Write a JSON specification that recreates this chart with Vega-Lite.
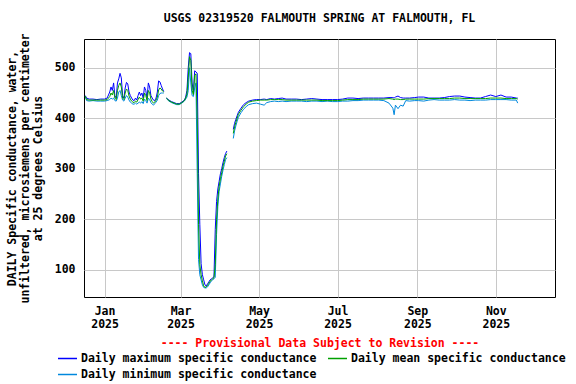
{
"$schema": "https://vega.github.io/schema/vega-lite/v6.json",
"width": 471, "height": 258,
"autosize": {"type": "none"},
"padding": {"left": 84, "top": 39, "right": 21, "bottom": 87},
"background": "white",
"title": {"text": "USGS 02319520 FALMOUTH SPRING AT FALMOUTH, FL", "font": "DejaVu Sans Mono", "fontSize": 11.5, "fontWeight": "bold", "anchor": "middle", "frame": "group", "offset": 8, "color": "black"},
"config": {"view": {"stroke": "black", "strokeWidth": 1}},
"data": {"values": [
{"d":"2024-12-17","max":445,"mean":444,"min":443},
{"d":"2024-12-18","max":440,"mean":437,"min":435},
{"d":"2024-12-20","max":438,"mean":436,"min":434},
{"d":"2024-12-23","max":438,"mean":436,"min":435},
{"d":"2024-12-26","max":437,"mean":436,"min":434},
{"d":"2024-12-29","max":438,"mean":436,"min":434},
{"d":"2025-01-01","max":438,"mean":436,"min":434},
{"d":"2025-01-03","max":440,"mean":437,"min":435},
{"d":"2025-01-05","max":452,"mean":443,"min":437},
{"d":"2025-01-06","max":462,"mean":450,"min":440},
{"d":"2025-01-07","max":455,"mean":446,"min":438},
{"d":"2025-01-08","max":470,"mean":455,"min":440},
{"d":"2025-01-09","max":445,"mean":440,"min":435},
{"d":"2025-01-10","max":440,"mean":437,"min":434},
{"d":"2025-01-11","max":470,"mean":455,"min":440},
{"d":"2025-01-12","max":478,"mean":465,"min":452},
{"d":"2025-01-13","max":489,"mean":470,"min":455},
{"d":"2025-01-14","max":480,"mean":462,"min":445},
{"d":"2025-01-15","max":445,"mean":440,"min":436},
{"d":"2025-01-16","max":440,"mean":437,"min":434},
{"d":"2025-01-17","max":460,"mean":450,"min":440},
{"d":"2025-01-18","max":471,"mean":458,"min":445},
{"d":"2025-01-19","max":468,"mean":455,"min":442},
{"d":"2025-01-20","max":452,"mean":444,"min":436},
{"d":"2025-01-21","max":445,"mean":438,"min":432},
{"d":"2025-01-22","max":440,"mean":434,"min":430},
{"d":"2025-01-23","max":436,"mean":432,"min":428},
{"d":"2025-01-24","max":435,"mean":431,"min":428},
{"d":"2025-01-25","max":440,"mean":434,"min":430},
{"d":"2025-01-26","max":436,"mean":432,"min":428},
{"d":"2025-01-27","max":445,"mean":437,"min":430},
{"d":"2025-01-28","max":452,"mean":442,"min":432},
{"d":"2025-01-29","max":445,"mean":438,"min":430},
{"d":"2025-01-30","max":450,"mean":440,"min":433},
{"d":"2025-01-31","max":440,"mean":434,"min":429},
{"d":"2025-02-01","max":462,"mean":450,"min":438},
{"d":"2025-02-02","max":455,"mean":445,"min":435},
{"d":"2025-02-03","max":440,"mean":435,"min":430},
{"d":"2025-02-04","max":470,"mean":455,"min":440},
{"d":"2025-02-05","max":462,"mean":450,"min":437},
{"d":"2025-02-06","max":445,"mean":438,"min":431},
{"d":"2025-02-07","max":440,"mean":433,"min":428},
{"d":"2025-02-08","max":436,"mean":430,"min":426},
{"d":"2025-02-09","max":435,"mean":432,"min":429},
{"d":"2025-02-10","max":440,"mean":436,"min":432},
{"d":"2025-02-11","max":452,"mean":442,"min":436},
{"d":"2025-02-12","max":474,"mean":456,"min":445},
{"d":"2025-02-13","max":472,"mean":460,"min":449},
{"d":"2025-02-14","max":465,"mean":458,"min":450},
{"d":"2025-02-15","max":458,"mean":454,"min":450},
{"d":"2025-02-16","max":453,"mean":452,"min":450},
{"d":"2025-02-17","max":null,"mean":null,"min":null},
{"d":"2025-02-18","max":440,"mean":440,"min":439},
{"d":"2025-02-20","max":436,"mean":435,"min":434},
{"d":"2025-02-22","max":433,"mean":432,"min":431},
{"d":"2025-02-24","max":431,"mean":430,"min":429},
{"d":"2025-02-26","max":429,"mean":428,"min":427},
{"d":"2025-02-28","max":429,"mean":428,"min":427},
{"d":"2025-03-02","max":432,"mean":431,"min":430},
{"d":"2025-03-04","max":436,"mean":435,"min":434},
{"d":"2025-03-05","max":442,"mean":440,"min":438},
{"d":"2025-03-06","max":455,"mean":448,"min":442},
{"d":"2025-03-07","max":500,"mean":480,"min":455},
{"d":"2025-03-08","max":530,"mean":522,"min":500},
{"d":"2025-03-09","max":528,"mean":515,"min":470},
{"d":"2025-03-10","max":470,"mean":455,"min":445},
{"d":"2025-03-11","max":452,"mean":447,"min":443},
{"d":"2025-03-12","max":494,"mean":485,"min":460},
{"d":"2025-03-13","max":492,"mean":488,"min":470},
{"d":"2025-03-14","max":489,"mean":400,"min":290},
{"d":"2025-03-15","max":290,"mean":190,"min":120},
{"d":"2025-03-16","max":190,"mean":110,"min":90},
{"d":"2025-03-17","max":112,"mean":90,"min":80},
{"d":"2025-03-18","max":90,"mean":78,"min":70},
{"d":"2025-03-19","max":80,"mean":68,"min":65},
{"d":"2025-03-20","max":70,"mean":65,"min":64},
{"d":"2025-03-21","max":68,"mean":66,"min":64},
{"d":"2025-03-22","max":72,"mean":69,"min":66},
{"d":"2025-03-23","max":76,"mean":73,"min":70},
{"d":"2025-03-24","max":80,"mean":77,"min":74},
{"d":"2025-03-25","max":82,"mean":80,"min":78},
{"d":"2025-03-26","max":84,"mean":82,"min":80},
{"d":"2025-03-27","max":86,"mean":84,"min":82},
{"d":"2025-03-28","max":180,"mean":110,"min":85},
{"d":"2025-03-29","max":235,"mean":200,"min":170},
{"d":"2025-03-30","max":260,"mean":240,"min":225},
{"d":"2025-03-31","max":275,"mean":265,"min":255},
{"d":"2025-04-01","max":290,"mean":280,"min":270},
{"d":"2025-04-02","max":300,"mean":292,"min":285},
{"d":"2025-04-03","max":312,"mean":305,"min":297},
{"d":"2025-04-04","max":322,"mean":315,"min":308},
{"d":"2025-04-05","max":330,"mean":325,"min":318},
{"d":"2025-04-06","max":335,"mean":330,"min":322},
{"d":"2025-04-08","max":null,"mean":null,"min":null},
{"d":"2025-04-11","max":378,"mean":370,"min":360},
{"d":"2025-04-12","max":390,"mean":383,"min":375},
{"d":"2025-04-13","max":398,"mean":392,"min":385},
{"d":"2025-04-14","max":405,"mean":400,"min":394},
{"d":"2025-04-15","max":412,"mean":408,"min":402},
{"d":"2025-04-17","max":420,"mean":416,"min":411},
{"d":"2025-04-19","max":427,"mean":423,"min":418},
{"d":"2025-04-21","max":431,"mean":428,"min":423},
{"d":"2025-04-23","max":434,"mean":432,"min":427},
{"d":"2025-04-26","max":436,"mean":434,"min":429},
{"d":"2025-04-29","max":437,"mean":435,"min":430},
{"d":"2025-05-02","max":437,"mean":436,"min":428},
{"d":"2025-05-05","max":438,"mean":436,"min":426},
{"d":"2025-05-07","max":437,"mean":436,"min":431},
{"d":"2025-05-10","max":439,"mean":437,"min":433},
{"d":"2025-05-13","max":438,"mean":437,"min":434},
{"d":"2025-05-16","max":439,"mean":437,"min":433},
{"d":"2025-05-19","max":440,"mean":437,"min":434},
{"d":"2025-05-22","max":438,"mean":436,"min":433},
{"d":"2025-05-26","max":438,"mean":436,"min":434},
{"d":"2025-05-30","max":438,"mean":436,"min":434},
{"d":"2025-06-03","max":437,"mean":436,"min":434},
{"d":"2025-06-07","max":438,"mean":436,"min":433},
{"d":"2025-06-11","max":439,"mean":436,"min":434},
{"d":"2025-06-15","max":438,"mean":436,"min":434},
{"d":"2025-06-19","max":437,"mean":435,"min":433},
{"d":"2025-06-23","max":437,"mean":435,"min":434},
{"d":"2025-06-27","max":437,"mean":435,"min":433},
{"d":"2025-07-01","max":437,"mean":435,"min":433},
{"d":"2025-07-05","max":438,"mean":436,"min":434},
{"d":"2025-07-09","max":440,"mean":437,"min":434},
{"d":"2025-07-13","max":440,"mean":437,"min":435},
{"d":"2025-07-17","max":439,"mean":437,"min":435},
{"d":"2025-07-21","max":440,"mean":438,"min":436},
{"d":"2025-07-25","max":440,"mean":438,"min":436},
{"d":"2025-07-29","max":440,"mean":438,"min":436},
{"d":"2025-08-02","max":440,"mean":438,"min":436},
{"d":"2025-08-06","max":440,"mean":438,"min":435},
{"d":"2025-08-10","max":441,"mean":439,"min":430},
{"d":"2025-08-13","max":441,"mean":438,"min":420},
{"d":"2025-08-14","max":440,"mean":437,"min":407},
{"d":"2025-08-15","max":442,"mean":438,"min":426},
{"d":"2025-08-17","max":444,"mean":438,"min":419},
{"d":"2025-08-19","max":441,"mean":437,"min":426},
{"d":"2025-08-21","max":440,"mean":437,"min":424},
{"d":"2025-08-23","max":440,"mean":438,"min":435},
{"d":"2025-08-26","max":440,"mean":438,"min":434},
{"d":"2025-08-30","max":441,"mean":438,"min":435},
{"d":"2025-09-02","max":442,"mean":438,"min":435},
{"d":"2025-09-06","max":442,"mean":438,"min":434},
{"d":"2025-09-10","max":440,"mean":439,"min":436},
{"d":"2025-09-14","max":440,"mean":439,"min":437},
{"d":"2025-09-18","max":440,"mean":439,"min":436},
{"d":"2025-09-22","max":441,"mean":439,"min":436},
{"d":"2025-09-26","max":443,"mean":439,"min":436},
{"d":"2025-09-30","max":444,"mean":440,"min":437},
{"d":"2025-10-04","max":444,"mean":440,"min":436},
{"d":"2025-10-08","max":442,"mean":439,"min":436},
{"d":"2025-10-12","max":441,"mean":439,"min":435},
{"d":"2025-10-16","max":440,"mean":439,"min":436},
{"d":"2025-10-20","max":440,"mean":439,"min":436},
{"d":"2025-10-24","max":443,"mean":439,"min":436},
{"d":"2025-10-28","max":446,"mean":440,"min":437},
{"d":"2025-11-01","max":443,"mean":440,"min":437},
{"d":"2025-11-05","max":446,"mean":440,"min":437},
{"d":"2025-11-09","max":442,"mean":439,"min":437},
{"d":"2025-11-13","max":442,"mean":439,"min":436},
{"d":"2025-11-17","max":440,"mean":439,"min":436},
{"d":"2025-11-18","max":440,"mean":438,"min":430}
]},
"transform": [{"fold": ["max", "min", "mean"], "as": ["series", "value"]}],
"mark": {"type": "line", "strokeWidth": 1, "invalid": "break-paths-show-domains"},
"encoding": {
"x": {"field": "d", "type": "temporal",
 "scale": {"type": "utc", "domain": [{"year": 2024, "month": 12, "date": 16, "utc": true}, {"year": 2025, "month": 12, "date": 17, "utc": true}]},
 "axis": {"values": [{"year": 2025, "month": 1, "date": 1, "utc": true}, {"year": 2025, "month": 3, "date": 1, "utc": true}, {"year": 2025, "month": 5, "date": 1, "utc": true}, {"year": 2025, "month": 7, "date": 1, "utc": true}, {"year": 2025, "month": 9, "date": 1, "utc": true}, {"year": 2025, "month": 11, "date": 1, "utc": true}],
  "labelExpr": "[utcFormat(datum.value, '%b'), utcFormat(datum.value, '%Y')]",
  "labelFont": "DejaVu Sans Mono", "labelFontSize": 11.5, "labelFontWeight": "bold", "labelColor": "black",
  "labelPadding": 8, "labelLineHeight": 13, "labelFlush": false, "labelOverlap": false,
  "ticks": false, "domain": false, "grid": true, "gridColor": "#c8c8c8", "gridWidth": 1,
  "title": "---- Provisional Data Subject to Revision ----", "titleColor": "red",
  "titleFont": "DejaVu Sans Mono", "titleFontSize": 11.5, "titleFontWeight": "bold", "titlePadding": 8}},
"y": {"field": "value", "type": "quantitative",
 "scale": {"domain": [46, 557], "nice": false, "zero": false},
 "axis": {"values": [100, 200, 300, 400, 500],
  "labelFont": "DejaVu Sans Mono", "labelFontSize": 11.5, "labelFontWeight": "bold", "labelColor": "black",
  "labelPadding": 9, "ticks": false, "domain": false, "grid": true, "gridColor": "#c8c8c8", "gridWidth": 1,
  "title": ["DAILY Specific conductance, water,", "unfiltered, microsiemens per centimeter", "at 25 degrees Celsius"],
  "titleFont": "DejaVu Sans Mono", "titleFontSize": 11.5, "titleFontWeight": "bold", "titleColor": "black",
  "titleLineHeight": 13, "titlePadding": 11}},
"color": {"field": "series", "type": "nominal",
 "scale": {"domain": ["max", "mean", "min"], "range": ["#0000ff", "#00a000", "#0088dd"]},
 "legend": {"orient": "none", "legendX": -27, "legendY": 309, "direction": "horizontal", "columns": 2, "title": null,
  "symbolType": "stroke", "symbolSize": 361, "symbolStrokeWidth": 1.5, "padding": 0,
  "labelFont": "DejaVu Sans Mono", "labelFontSize": 11.5, "labelFontWeight": "bold", "labelColor": "black",
  "labelOffset": 3, "labelLimit": 0, "columnPadding": 8, "rowPadding": 0,
  "labelExpr": "datum.label == 'max' ? 'Daily maximum specific conductance' : datum.label == 'mean' ? 'Daily mean specific conductance' : 'Daily minimum specific conductance'"}}
}
}
